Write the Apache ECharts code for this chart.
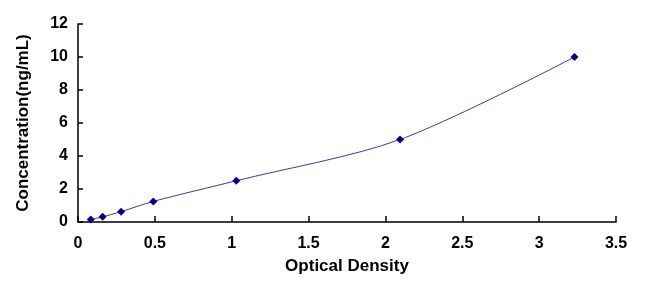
<!DOCTYPE html>
<html>
<head>
<meta charset="utf-8">
<script src="https://cdn.jsdelivr.net/npm/echarts@6/dist/echarts.min.js"></script>
<style>
  html, body { margin: 0; padding: 0; background: #fff; }
  #chart { width: 653px; height: 287px; }
</style>
</head>
<body>
<div id="chart"></div>
<script>
// standard curve: optical density vs concentration
const od = [0.083, 0.16, 0.28, 0.49, 1.03, 2.095, 3.23];
const conc = [0.156, 0.312, 0.625, 1.25, 2.5, 5, 10];

const points = od.map((x, i) => [x, conc[i]]);

const chart = echarts.init(document.getElementById('chart'));

const tickFont = {
    color: '#000',
    fontFamily: 'Liberation Sans, Arial, sans-serif',
    fontWeight: 'bold',
    fontSize: 16
};
const nameFont = {
    color: '#000',
    fontFamily: 'Liberation Sans, Arial, sans-serif',
    fontWeight: 'bold',
    fontSize: 17
};

chart.setOption({
    backgroundColor: '#fff',
    animation: false,
    grid: { left: 78, right: 37, top: 24, bottom: 65 },
    xAxis: {
        type: 'value',
        min: 0,
        max: 3.5,
        interval: 0.5,
        name: 'Optical Density',
        nameLocation: 'middle',
        nameGap: 36,
        nameTextStyle: nameFont,
        axisLine: { lineStyle: { color: '#000', width: 1.5 } },
        axisTick: { inside: true, length: 6, lineStyle: { color: '#000', width: 1.5 } },
        axisLabel: Object.assign({ margin: 14 }, tickFont),
        splitLine: { show: false }
    },
    yAxis: {
        type: 'value',
        min: 0,
        max: 12,
        interval: 2,
        name: 'Concentration(ng/mL)',
        nameLocation: 'middle',
        nameGap: 46,
        nameTextStyle: nameFont,
        axisLine: { show: true, lineStyle: { color: '#000', width: 1.5 } },
        axisTick: { show: true, inside: true, length: 5, lineStyle: { color: '#000', width: 1.5 } },
        axisLabel: Object.assign({ margin: 10 }, tickFont),
        splitLine: { show: false }
    },
    series: [{
        type: 'line',
        data: points,
        smooth: 0.3,
        symbol: 'diamond',
        symbolSize: 8,
        itemStyle: { color: '#000080' },
        lineStyle: { color: '#3a3aa0', width: 1 }
    }]
});
</script>
</body>
</html>
